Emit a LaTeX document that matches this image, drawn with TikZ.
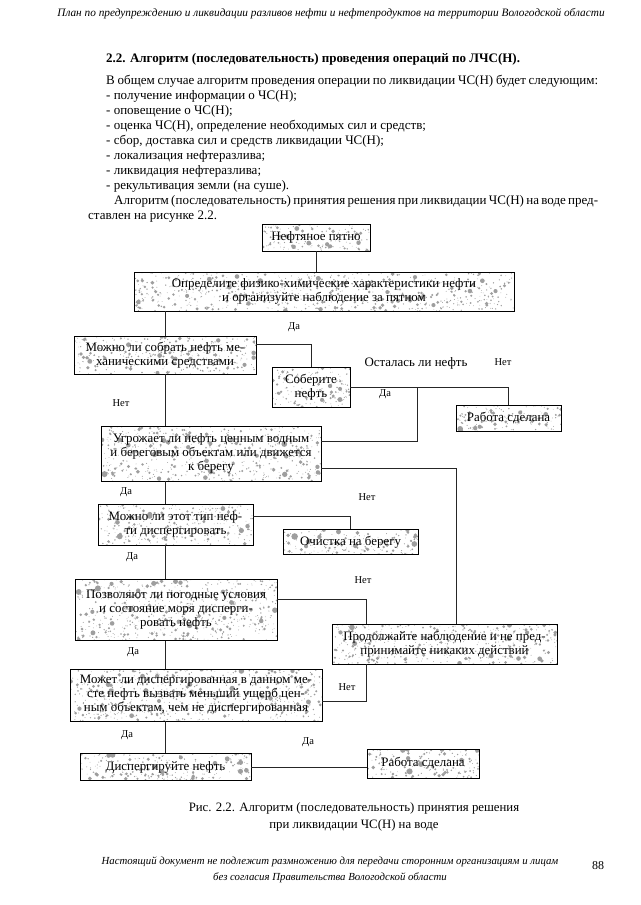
\documentclass[tikz,border=0pt]{standalone}
\usepackage{fontspec}
\setmainfont{Liberation Serif}
\usetikzlibrary{calc}
\newcommand\fs[2]{\fontsize{#1}{#2}\selectfont}
\newcommand\speckle{%
  \path (path picture bounding box.south west); \pgfgetlastxy{\spxa}{\spya}%
  \path (path picture bounding box.north east); \pgfgetlastxy{\spxb}{\spyb}%
  \pgfmathsetmacro\spW{\spxb-\spxa}%
  \pgfmathsetmacro\spH{\spyb-\spya}%
  \pgfmathtruncatemacro\spN{\spW*\spH/20}%
  \foreach \i in {1,...,\spN}{%
    \pgfmathsetmacro\rx{rnd*\spW}%
    \pgfmathsetmacro\ry{rnd*\spH}%
    \pgfmathsetmacro\rr{0.35+3.3*rnd*rnd*rnd}%
    \fill[black!38] ([xshift=\rx pt,yshift=\ry pt]path picture bounding box.south west) circle (\rr pt);
  }%
}
\tikzset{
 bx/.style={draw=black, line width=0.9pt, inner sep=0pt, align=center, font=\fs{12.9}{14}, path picture={\speckle}},
 ln/.style={line width=0.85pt, draw=black!85},
 lbl/.style={font=\fs{10.5}{12}, inner sep=0pt},
 body/.style={anchor=base west, inner sep=0pt, font=\fs{13}{15}},
}
\begin{document}
\pgfmathsetseed{7}
\begin{tikzpicture}[x=1pt,y=-1pt]
\fill[white] (0,0) rectangle (640,905);
\useasboundingbox (0,0) rectangle (640,905);

% header
\node[inner sep=0pt, font=\fs{11.3}{13}\itshape] (hdr) at (331,14) {План по предупреждению и ликвидации разливов нефти и нефтепродуктов на территории Вологодской области};

% heading and body
\node[body] (h1) at (106,62) {\textbf{2.2. Алгоритм (последовательность) проведения операций по ЛЧС(Н).}};
\node[body] (t1) at (106,84) {\makebox[492pt][s]{В общем случае алгоритм проведения операции по ликвидации ЧС(Н) будет следующим:}};
\node[body] (t2) at (106,99) {- получение информации о ЧС(Н);};
\node[body] (t3) at (106,114) {- оповещение о ЧС(Н);};
\node[body] (t4) at (106,129) {- оценка ЧС(Н), определение необходимых сил и средств;};
\node[body] (t5) at (106,144) {- сбор, доставка сил и средств ликвидации ЧС(Н);};
\node[body] (t6) at (106,159) {- локализация нефтеразлива;};
\node[body] (t7) at (106,174) {- ликвидация нефтеразлива;};
\node[body] (t8) at (106,189) {- рекультивация земли (на суше).};
\node[body] (t9) at (114,204) {\makebox[484pt][s]{Алгоритм (последовательность) принятия решения при ликвидации ЧС(Н) на воде пред-}};
\node[body] (t10) at (88,219) {ставлен на рисунке 2.2.};

% boxes
\node[bx, minimum width=108pt, minimum height=27pt] (B1) at (316,237.5) {Нефтяное пятно};
\node[bx, minimum width=380pt, minimum height=39pt] (B2) at (324,291.5) {Определите физико-химические характеристики нефти\\и организуйте наблюдение за пятном};
\node[bx, minimum width=182pt, minimum height=38pt] (B3) at (165,355) {Можно ли собрать нефть ме-\\ханическими средствами};
\node[bx, minimum width=78pt, minimum height=40pt] (B4) at (311,387) {Соберите\\нефть};
\node[bx, minimum width=105pt, minimum height=26pt] (B5) at (508.5,418) {Работа сделана};
\node[bx, minimum width=220pt, minimum height=55pt] (B6) at (211,453.5) {Угрожает ли нефть ценным водным\\и береговым объектам или движется\\к берегу};
\node[bx, minimum width=155pt, minimum height=41pt] (B7) at (175.5,524.5) {Можно ли этот тип неф-\\ти диспергировать};
\node[bx, minimum width=135pt, minimum height=25pt] (B8) at (350.5,542) {Очистка на берегу};
\node[bx, minimum width=202pt, minimum height=61pt] (B9) at (176,610) {Позволяют ли погодные условия\\и состояние моря дисперги-\\ровать нефть};
\node[bx, minimum width=225pt, minimum height=40pt] (B10) at (444.5,644) {Продолжайте наблюдение и не пред-\\принимайте никаких действий};
\node[bx, minimum width=252pt, minimum height=52pt] (B11) at (196,695) {Может ли диспергированная в данном ме-\\сте нефть вызвать меньший ущерб цен-\\ным объектам, чем не диспергированная};
\node[bx, minimum width=171pt, minimum height=27pt] (B12) at (165.5,767) {Диспергируйте нефть};
\node[bx, minimum width=112pt, minimum height=29pt] (B13) at (423,763.5) {Работа сделана};

% connectors
\coordinate (J1) at (417,387);
\draw[ln] (B1.south) -- (B1.south |- B2.north);
\draw[ln] (B3.north |- B2.south) -- (B3.north);
\draw[ln] ([yshift=10.5pt]B3.east) -| (B4.north);
\draw[ln] (B4.east) -| (B5.north);
\draw[ln] (J1) |- ([yshift=12pt]B6.east);
\draw[ln] ([yshift=-15pt]B6.east) -| ([xshift=11.5pt]B10.north);
\draw[ln] (B3.south) -- (B3.south |- B6.north);
\draw[ln] (B3.south |- B6.south) -- (B3.south |- B7.north);
\draw[ln] ([yshift=8.5pt]B7.east) -| (B8.north);
\draw[ln] (B3.south |- B7.south) -- (B3.south |- B9.north);
\draw[ln] ([yshift=11pt]B9.east) -| ([xshift=-78.5pt]B10.north);
\draw[ln] (B3.south |- B9.south) -- (B3.south |- B11.north);
\draw[ln] ([yshift=-6pt]B11.east) -| ([xshift=-78.5pt]B10.south);
\draw[ln] (B3.south |- B11.south) -- (B3.south |- B12.north);
\draw[ln] (B12.east) -- (B12.east -| B13.west);

% labels
\node[lbl] (l1) at (294,327) {Да};
\node[inner sep=0pt, font=\fs{12.9}{14}] (l2) at (416,363) {Осталась ли нефть};
\node[lbl] (l3) at (503,362) {Нет};
\node[lbl] (l4) at (121,403) {Нет};
\node[lbl] (l5) at (385,394) {Да};
\node[lbl] (l6) at (126,492) {Да};
\node[lbl] (l7) at (367,497) {Нет};
\node[lbl] (l8) at (132,557) {Да};
\node[lbl] (l9) at (363,580) {Нет};
\node[lbl] (l10) at (133,652) {Да};
\node[lbl] (l11) at (347,687) {Нет};
\node[lbl] (l12) at (127,735) {Да};
\node[lbl] (l13) at (308,742) {Да};

% caption
\node[inner sep=0pt, align=center, font=\fs{12.8}{17}] (cap) at (354,817) {Рис. 2.2. Алгоритм (последовательность) принятия решения\\при ликвидации ЧС(Н) на воде};

% footer
\node[inner sep=0pt, align=center, font=\fs{10.8}{16}\itshape] (ftr) at (330,870) {Настоящий документ не подлежит размножению для передачи сторонним организациям и лицам\\без согласия Правительства Вологодской области};
\node[inner sep=0pt, font=\fs{12}{14}] (pg) at (598,866) {88};
\end{tikzpicture}
\end{document}
